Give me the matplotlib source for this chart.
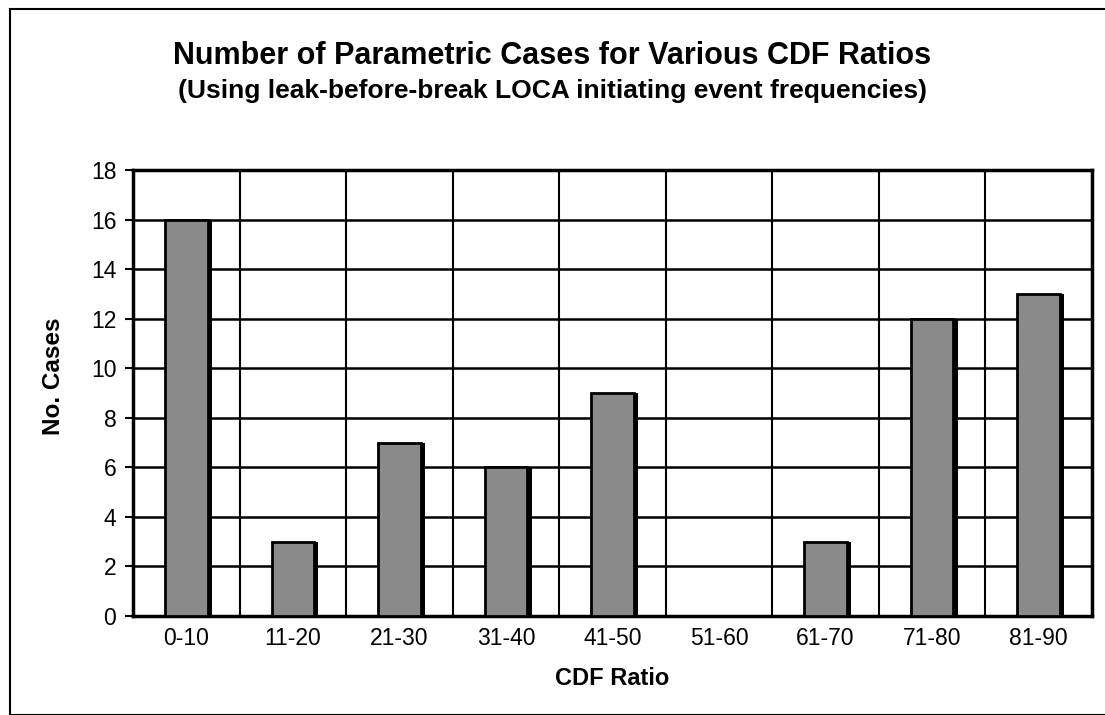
import numpy as np
import matplotlib.pyplot as plt
from matplotlib.patches import Rectangle

plt.rcParams['font.family'] = ['Liberation Sans', 'DejaVu Sans']

categories = ['0-10', '11-20', '21-30', '31-40', '41-50', '51-60', '61-70', '71-80', '81-90']
cases = [16, 3, 7, 6, 9, 0, 3, 12, 13]

fig = plt.figure(figsize=(11.05, 7.15), dpi=100)
ax = fig.add_axes([133 / 1105, 1 - 616 / 715, (1092 - 133) / 1105, (616 - 170) / 715])

x = np.arange(len(categories))
w = 0.40
# dark shadow on the right side of each bar
ax.bar(x + 0.04, cases, w, color='black', zorder=2)
ax.bar(x, cases, w, color='#8a8a8a', edgecolor='black', linewidth=2, zorder=3)

ax.set_xlim(-0.5, len(categories) - 0.5)
ax.set_ylim(0, 18)
ax.set_yticks(range(0, 19, 2))
ax.set_xticks(x)
ax.set_xticklabels(categories)
ax.set_xticks(np.arange(len(categories) + 1) - 0.5, minor=True)
ax.grid(True, which='minor', axis='x', color='black', linewidth=1.5)
ax.grid(True, which='major', axis='y', color='black', linewidth=1.8)
ax.set_axisbelow(True)
ax.tick_params(axis='x', which='both', length=0, pad=8, labelsize=16.5)
ax.tick_params(axis='y', length=6, width=1.5, pad=6, labelsize=16.5)
for s in ax.spines.values():
    s.set_linewidth(2.5)

ax.set_xlabel('CDF Ratio', fontsize=17, fontweight='bold', labelpad=12)
fig.text(54 / 1105, 1 - 376 / 715, 'No. Cases', rotation=90, ha='center', va='center',
         fontsize=17.5, fontweight='bold')

fig.text(0.5, 1 - 56 / 715, 'Number of Parametric Cases for Various CDF Ratios',
         ha='center', va='center', fontsize=22, fontweight='bold')
fig.text(0.5, 1 - 91 / 715, '(Using leak-before-break LOCA initiating event frequencies)',
         ha='center', va='center', fontsize=19, fontweight='bold')

# outer chart frame
fig.patches.append(Rectangle((10 / 1105, 0), 1.2, 1 - 9 / 715, transform=fig.transFigure,
                             fill=False, edgecolor='black', linewidth=1.5))

fig.savefig('out.png', dpi=100)
